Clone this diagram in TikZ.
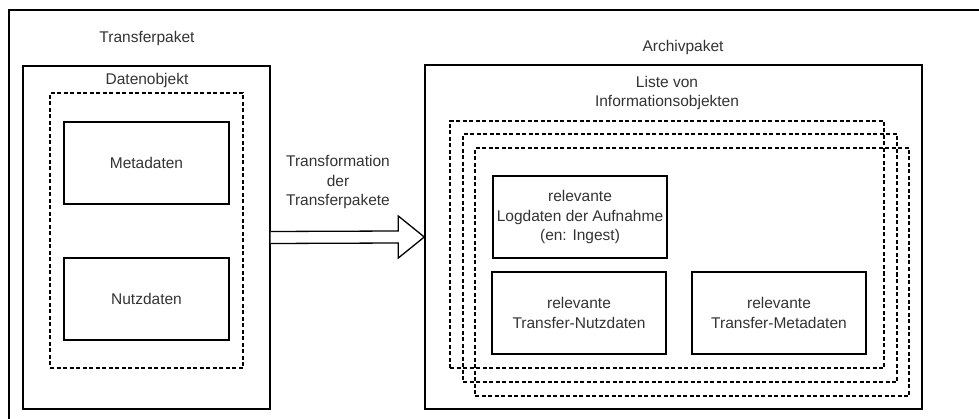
\documentclass[tikz,border=0pt]{standalone}
\usepackage{fontspec}
\setmainfont{Liberation Sans}
\usetikzlibrary{calc}
\definecolor{txt}{HTML}{333333}
\begin{document}
\begin{tikzpicture}[x=1pt,y=-1pt,
  every node/.style={font=\fontsize{15.5}{19.5}\selectfont, text=txt, inner sep=0pt, align=center},
  box/.style={draw=black, line width=1.4pt, fill=none},
  dbox/.style={draw=black, line width=1.1pt, dash pattern=on 4pt off 2.5pt},
  lbl/.style={}]
\useasboundingbox (0,0) rectangle (979,419);
% outer frame (cut off)
\draw[line width=2pt] (9,419) |- (979,10);

% Transferpaket
\node[lbl] (tplbl) at (147,38) {Transferpaket};
\node[box, minimum width=247pt, minimum height=343pt] (tp) at (146.5,237.5) {};
\node[lbl] (dolbl) at (147,80) {Datenobjekt};
\node[dbox, minimum width=193pt, minimum height=275pt] (do) at (146.5,230.5) {};
\node[box, minimum width=165pt, minimum height=82pt] (meta) at (146.5,163) {Metadaten};
\node[box, minimum width=165pt, minimum height=82pt] (nutz) at (146.5,299) {Nutzdaten};

% Archivpaket
\node[lbl] (aplbl) at (683,47) {Archivpaket};
\node[box, minimum width=497pt, minimum height=344pt] (ap) at (673.5,237) {};
\node[lbl] (lilbl) at (667,93) {Liste von\\Informationsobjekten};
\node[dbox, minimum width=434pt, minimum height=247pt] (io1) at (667,244.5) {};
\node[dbox, minimum width=434pt, minimum height=248pt] (io2) at (680,258) {};
\node[dbox, minimum width=434pt, minimum height=248pt] (io3) at (692,272) {};
\node[box, minimum width=174pt, minimum height=82pt] (log) at (580,217) {relevante\\Logdaten der Aufnahme\\(en: Ingest)};
\node[box, minimum width=174pt, minimum height=82pt] (tn) at (579,313) {relevante\\Transfer-Nutzdaten};
\node[box, minimum width=174pt, minimum height=82pt] (tm) at (779,313) {relevante\\Transfer-Metadaten};

% block arrow
\draw[line width=1.3pt, fill=white, line join=miter]
  ($(tp.east)+(0,-6)$) -- ($(ap.west)+(-26,-6)$) -- ($(ap.west)+(-26,-21)$)
  -- (ap.west) -- ($(ap.west)+(-26,21)$) -- ($(ap.west)+(-26,6)$)
  -- ($(tp.east)+(0,6)$);
\node[lbl] (trlbl) at (338,182) {Transformation\\der\\Transferpakete};
\end{tikzpicture}
\end{document}
